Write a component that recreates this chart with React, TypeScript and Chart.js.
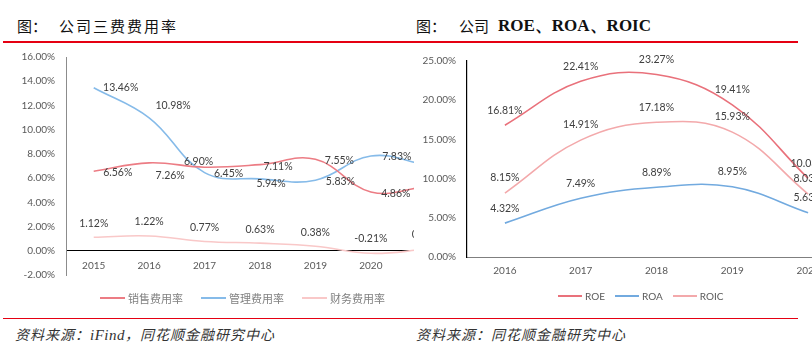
import React, { useEffect, useRef } from 'react';
import { Chart, registerables } from 'chart.js';

Chart.register(...registerables);

// ---------- data ----------
const LEFT_CATEGORIES = ['2015', '2016', '2017', '2018', '2019', '2020', '2021'];
const SALES_RATE = [6.56, 7.26, 6.9, 7.11, 7.55, 4.86, 5.3];
const ADMIN_RATE = [13.46, 10.98, 6.45, 5.94, 5.83, 7.83, 7.1];
const FINANCE_RATE = [1.12, 1.22, 0.77, 0.63, 0.38, -0.21, 0.12];
const LEFT_SERIES_NAMES = ['销售费用率', '管理费用率', '财务费用率'];
const LEFT_Y_MIN = -2;
const LEFT_Y_MAX = 16;
const LEFT_Y_STEP = 2;

const RIGHT_CATEGORIES = ['2016', '2017', '2018', '2019', '2020'];
const ROE = [16.81, 22.41, 23.27, 19.41, 10.03];
const ROA = [4.32, 7.49, 8.89, 8.95, 5.63];
const ROIC = [8.15, 14.91, 17.18, 15.93, 8.03];
const RIGHT_SERIES_NAMES = ['ROE', 'ROA', 'ROIC'];
const RIGHT_Y_MIN = 0;
const RIGHT_Y_MAX = 25;
const RIGHT_Y_STEP = 5;

// ---------- styles ----------
const LEFT_COLORS = ['#EC7C84', '#86BBE9', '#F9C8C8'];
const RIGHT_COLORS = ['#E9717B', '#72AADF', '#F3A9AB'];
const RED = '#E50012';
const FONT = 'Lato';

// label offsets (label centre relative to point), per series / per point
const LEFT_LABEL_OFFSETS: number[][][] = [
  [[24, 1], [21, 13], [-6, -6], [18, 2], [24, 1], [25, 2], [24, 1]],
  [[27, 0], [24, -12], [24, 1], [11, 5], [25, 1], [26, 1], [25, 1]],
  [[0, -14], [0, -14], [0, -14], [0, -14], [0, -14], [0, -15], [0, -15]],
];
const RIGHT_LABEL_OFFSET = [0, -15];

function makeLabelPlugin(getOffset: (di: number, i: number) => number[]) {
  return {
    id: 'valueLabels',
    afterDatasetsDraw(chart: any) {
      const ctx = chart.ctx;
      ctx.save();
      ctx.font = `10.5px ${FONT}`;
      ctx.fillStyle = '#404040';
      ctx.textAlign = 'center';
      ctx.textBaseline = 'middle';
      chart.data.datasets.forEach((ds: any, di: number) => {
        const meta = chart.getDatasetMeta(di);
        meta.data.forEach((pt: any, i: number) => {
          const [dx, dy] = getOffset(di, i);
          ctx.fillText(Number(ds.data[i]).toFixed(2) + '%', pt.x + dx, pt.y + dy);
        });
      });
      ctx.restore();
    },
  };
}

function LeftChart() {
  const ref = useRef<HTMLCanvasElement>(null);
  useEffect(() => {
    const chart = new Chart(ref.current!, {
      type: 'line',
      data: {
        labels: LEFT_CATEGORIES,
        datasets: [SALES_RATE, ADMIN_RATE, FINANCE_RATE].map((d, i) => ({
          label: LEFT_SERIES_NAMES[i],
          data: d,
          borderColor: LEFT_COLORS[i],
          backgroundColor: LEFT_COLORS[i],
          borderWidth: 1.6,
          pointRadius: 0,
          tension: 0.4,
          fill: false,
        })),
      },
      options: {
        responsive: false,
        animation: false,
        layout: { padding: { top: 0, bottom: 0, left: 0, right: 6 } },
        plugins: { legend: { display: false }, tooltip: { enabled: false } },
        scales: {
          x: {
            type: 'category',
            offset: true,
            position: { y: 0 } as any,
            grid: { display: false, drawTicks: false },
            border: { display: true, color: '#000', width: 1 },
            ticks: { color: '#595959', font: { family: FONT, size: 10 }, padding: 9, maxRotation: 0, autoSkip: false },
            afterFit: (s: any) => { s.height = 0; },
          },
          y: {
            min: LEFT_Y_MIN,
            max: LEFT_Y_MAX,
            grid: { display: false, drawTicks: false },
            border: { display: true, color: '#8C8C8C', width: 1 },
            ticks: {
              stepSize: LEFT_Y_STEP,
              color: '#595959',
              font: { family: FONT, size: 10 },
              padding: 11,
              callback: (v: any) => Number(v).toFixed(2) + '%',
            },
            afterFit: (s: any) => { s.width = 66; },
          },
        },
      },
      plugins: [makeLabelPlugin((di, i) => LEFT_LABEL_OFFSETS[di][i])],
    } as any);
    return () => chart.destroy();
  }, []);
  return <canvas ref={ref} width={460} height={252} style={{ position: 'absolute', left: 0, top: 40, width: 460, height: 252 }} />;
}

function RightChart() {
  const ref = useRef<HTMLCanvasElement>(null);
  useEffect(() => {
    const chart = new Chart(ref.current!, {
      type: 'line',
      data: {
        labels: RIGHT_CATEGORIES,
        datasets: [ROE, ROA, ROIC].map((d, i) => ({
          label: RIGHT_SERIES_NAMES[i],
          data: d,
          borderColor: RIGHT_COLORS[i],
          backgroundColor: RIGHT_COLORS[i],
          borderWidth: 1.6,
          pointRadius: 0,
          tension: 0.4,
          fill: false,
        })),
      },
      options: {
        responsive: false,
        animation: false,
        layout: { padding: { top: 0, bottom: 0, left: 0, right: 4 } },
        plugins: { legend: { display: false }, tooltip: { enabled: false } },
        scales: {
          x: {
            type: 'category',
            offset: true,
            grid: { display: false, drawTicks: false },
            border: { display: true, color: '#7F7F7F', width: 1 },
            ticks: { color: '#595959', font: { family: FONT, size: 10 }, padding: 8, maxRotation: 0, autoSkip: false },
            afterFit: (s: any) => { s.height = 25; },
          },
          y: {
            min: RIGHT_Y_MIN,
            max: RIGHT_Y_MAX,
            grid: { display: false, drawTicks: false },
            border: { display: true, color: '#000', width: 1.2 },
            ticks: {
              stepSize: RIGHT_Y_STEP,
              color: '#595959',
              font: { family: FONT, size: 10 },
              padding: 11,
              callback: (v: any) => Number(v).toFixed(2) + '%',
            },
            afterFit: (s: any) => { s.width = 53; },
          },
        },
      },
      plugins: [makeLabelPlugin(() => RIGHT_LABEL_OFFSET)],
    } as any);
    return () => chart.destroy();
  }, []);
  return <canvas ref={ref} width={436} height={238} style={{ position: 'absolute', left: 0, top: 44, width: 436, height: 238 }} />;
}

function Legend({ names, colors, left, top, lineW, gap, font, color }: any) {
  return (
    <div style={{ position: 'absolute', left, top, display: 'flex', alignItems: 'center', height: 14 }}>
      {names.map((n: string, i: number) => (
        <div key={n} style={{ display: 'flex', alignItems: 'center', marginRight: i < names.length - 1 ? gap : 0 }}>
          <div style={{ width: lineW, height: 2, background: colors[i], marginRight: 3 }} />
          <span style={{ font, color, lineHeight: '14px', whiteSpace: 'nowrap' }}>{n}</span>
        </div>
      ))}
    </div>
  );
}

export default function App() {
  const cjk = '"Noto Sans CJK SC", sans-serif';
  return (
    <div style={{ position: 'fixed', left: 0, top: 0, width: 812, height: 353, background: '#fff', overflow: 'hidden' }}>
      {/* titles */}
      <div style={{ position: 'absolute', left: 17, top: 18, fontFamily: cjk, fontSize: 15, lineHeight: '16px', color: '#111', whiteSpace: 'nowrap' }}>
        <span>图：</span>
        <span style={{ position: 'absolute', left: 42, top: 0, letterSpacing: 2 }}>公司三费费用率</span>
      </div>
      <div style={{ position: 'absolute', left: 416, top: 18, fontFamily: cjk, fontSize: 15, lineHeight: '16px', color: '#111', whiteSpace: 'nowrap' }}>
        <span>图：</span>
        <span style={{ position: 'absolute', left: 43, top: 0 }}>公司</span>
        <span style={{ position: 'absolute', left: 82, top: -1, fontFamily: '"Liberation Serif", serif', fontWeight: 'bold', fontSize: 17, lineHeight: '18px' }}>ROE、ROA、ROIC</span>
      </div>
      <div style={{ position: 'absolute', left: 3, top: 41, width: 795, height: 2, background: RED }} />

      {/* charts */}
      <div style={{ position: 'absolute', left: 0, top: 0, width: 414, height: 353, overflow: 'hidden' }}>
        <LeftChart />
      </div>
      <div style={{ position: 'absolute', left: 414, top: 0, width: 398, height: 353, overflow: 'hidden' }}>
        <RightChart />
      </div>

      {/* legends */}
      <Legend names={LEFT_SERIES_NAMES} colors={LEFT_COLORS} left={100} top={291} lineW={25} gap={18}
        font={`11px ${cjk}`} color="#808080" />
      <Legend names={RIGHT_SERIES_NAMES} colors={RIGHT_COLORS} left={558} top={289} lineW={24} gap={10}
        font={`10px ${FONT}`} color="#595959" />

      {/* bottom rule and sources */}
      <div style={{ position: 'absolute', left: 3, top: 318, width: 795, height: 1, background: RED }} />
      <div style={{ position: 'absolute', left: 15, top: 326, fontFamily: cjk, fontSize: 14, lineHeight: '16px', fontStyle: 'italic', color: '#333', letterSpacing: 1, whiteSpace: 'nowrap' }}>
        资料来源：<span style={{ fontFamily: '"Liberation Serif", serif', fontSize: 15, letterSpacing: 0.5 }}>iFind</span>，同花顺金融研究中心
      </div>
      <div style={{ position: 'absolute', left: 416, top: 326, fontFamily: cjk, fontSize: 14, lineHeight: '16px', fontStyle: 'italic', color: '#333', letterSpacing: 1, whiteSpace: 'nowrap' }}>
        资料来源：同花顺金融研究中心
      </div>
    </div>
  );
}
